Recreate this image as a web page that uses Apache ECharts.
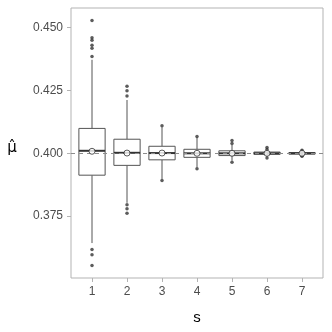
<!DOCTYPE html>
<html lang="en">
<head>
	<meta charset="UTF-8">
	<title>mu hat by s</title>
	<script src="https://cdn.jsdelivr.net/npm/echarts/dist/echarts.min.js"></script>
	<style>
		html, body { margin: 0; padding: 0; background: #fff; }
	</style>
</head>
<body>
	<div id="boxChart" style="width: 332px; height: 332px;"></div>
	<script type="text/javascript">

		const groups = [1, 2, 3, 4, 5, 6, 7];
		const lowWhisker = [0.3643, 0.3803, 0.3898, 0.3944, 0.3971, 0.3985, 0.3993];
		const q1 = [0.3913, 0.3952, 0.3974, 0.3984, 0.3991, 0.3996, 0.3997];
		const median = [0.4010, 0.4002, 0.4001, 0.4000, 0.4000, 0.4000, 0.4000];
		const q3 = [0.4099, 0.4056, 0.4028, 0.4016, 0.4010, 0.4005, 0.4003];
		const highWhisker = [0.4372, 0.4212, 0.4104, 0.4063, 0.4033, 0.4011, 0.4007];
		const means = [0.4008, 0.4001, 0.4001, 0.4000, 0.4000, 0.4000, 0.4000];

		const outlierGroup = [1, 1, 1, 1, 1, 1, 1, 1, 1, 2, 2, 2, 2, 2, 2, 3, 3, 4, 4, 5, 5, 5, 6, 6, 6, 7, 7, 7, 7];
		const outlierValue = [0.4528, 0.4460, 0.4450, 0.4430, 0.4418, 0.4385, 0.3617, 0.3596, 0.3554,
			0.4267, 0.4249, 0.4228, 0.3795, 0.3779, 0.3762,
			0.4110, 0.3892, 0.4067, 0.3939,
			0.4051, 0.4039, 0.3964, 0.4023, 0.4015, 0.3981,
			0.4012, 0.4009, 0.3988, 0.3990];

		const yTicks = [0.375, 0.400, 0.425, 0.450];
		const refValue = 0.4;

		const boxData = groups.map((g, i) => [g, lowWhisker[i], q1[i], median[i], q3[i], highWhisker[i]]);
		const meanData = groups.map((g, i) => [g, means[i]]);
		const outlierData = outlierGroup.map((g, i) => [g, outlierValue[i]]);

		const axisFont = 'Liberation Sans';
		const chart = echarts.init(document.getElementById('boxChart'));

		// ggplot style box: no whisker caps, thicker median
		function renderBox(params, api) {
			const x = api.value(0);
			const pLow = api.coord([x, api.value(1)]);
			const pQ1 = api.coord([x, api.value(2)]);
			const pMed = api.coord([x, api.value(3)]);
			const pQ3 = api.coord([x, api.value(4)]);
			const pHigh = api.coord([x, api.value(5)]);
			const w = api.size([0.75, 0])[0];
			const left = pMed[0] - w / 2;
			const stroke = { stroke: '#555', lineWidth: 1, fill: null };
			return {
				type: 'group',
				children: [
					{ type: 'line', shape: { x1: pLow[0], y1: pLow[1], x2: pQ1[0], y2: pQ1[1] }, style: stroke },
					{ type: 'line', shape: { x1: pQ3[0], y1: pQ3[1], x2: pHigh[0], y2: pHigh[1] }, style: stroke },
					{ type: 'rect', shape: { x: left, y: pQ3[1], width: w, height: pQ1[1] - pQ3[1] },
						style: { stroke: '#555', lineWidth: 1, fill: '#fff' } },
					{ type: 'line', shape: { x1: left, y1: pMed[1], x2: left + w, y2: pMed[1] },
						style: { stroke: '#333', lineWidth: 2 } }
				]
			};
		}

		chart.setOption({
			animation: false,
			grid: {
				left: 71, top: 8, right: 9, bottom: 54,
				show: true,
				borderColor: '#b3b3b3',
				borderWidth: 1,
				containLabel: false,
				outerBoundsMode: 'none'
			},
			xAxis: {
				type: 'value',
				min: 0.4,
				max: 7.6,
				axisLine: { show: false },
				splitLine: { show: false },
				axisTick: { show: true, length: 4, customValues: groups, lineStyle: { color: '#b3b3b3' } },
				axisLabel: { customValues: groups, margin: 8, fontSize: 12, fontFamily: axisFont, color: '#4d4d4d' }
			},
			yAxis: {
				type: 'value',
				min: 0.3504,
				max: 0.4578,
				axisLine: { show: false },
				splitLine: { show: false },
				axisTick: { show: true, length: 4, customValues: yTicks, lineStyle: { color: '#b3b3b3' } },
				axisLabel: {
					customValues: yTicks, margin: 8, fontSize: 12, fontFamily: axisFont, color: '#4d4d4d',
					formatter: v => v.toFixed(3)
				}
			},
			graphic: [
				{
					type: 'text', x: 197, y: 318,
					style: { text: 's', font: '15px Liberation Sans', fill: '#000', align: 'center', verticalAlign: 'middle' }
				},
				{
					type: 'text', x: 12, y: 148,
					style: { text: 'μ\u0302', font: '15px DejaVu Sans', fill: '#000', align: 'center', verticalAlign: 'middle' }
				}
			],
			series: [{
				name: 'box',
				type: 'custom',
				data: boxData,
				encode: { x: 0, y: [1, 2, 3, 4, 5] },
				renderItem: renderBox,
				z: 2,
				markLine: {
					silent: true,
					symbol: 'none',
					z: 5,
					label: { show: false },
					lineStyle: { color: '#8c8c8c', type: [4, 4], width: 1 },
					data: [{ yAxis: refValue }]
				}
			}, {
				name: 'outliers',
				type: 'scatter',
				data: outlierData,
				symbolSize: 3.5,
				z: 6,
				itemStyle: { color: '#333' }
			}, {
				name: 'mean',
				type: 'scatter',
				data: meanData,
				symbol: 'circle',
				symbolSize: 6,
				z: 7,
				itemStyle: { color: '#fff', borderColor: '#333', borderWidth: 1 }
			}]
		});
	</script>
</body>
</html>
